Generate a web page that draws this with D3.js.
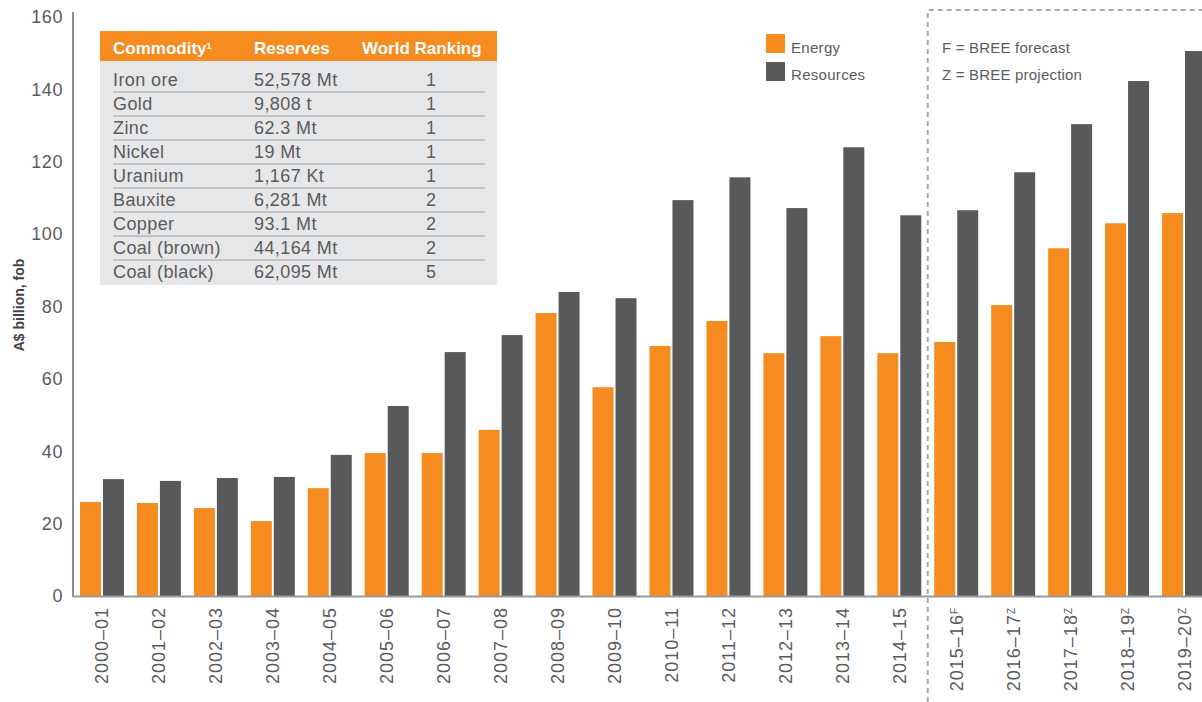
<!DOCTYPE html>
<html>
<head>
<meta charset="utf-8">
<script src="https://cdn.jsdelivr.net/npm/d3@7"></script>
<style>
  body { margin: 0; background: #fff; }
  svg { display: block; font-family: "Liberation Sans", Arial, sans-serif; }
</style>
</head>
<body>
<svg id="chart" width="1202" height="702"></svg>
<script>
// chart data
const years = ["2000–01","2001–02","2002–03","2003–04","2004–05","2005–06","2006–07","2007–08","2008–09","2009–10",
  "2010–11","2011–12","2012–13","2013–14","2014–15","2015–16","2016–17","2017–18","2018–19","2019–20"];
const yearNotes = ["","","","","","","","","","","","","","","","F","Z","Z","Z","Z"];
const energy = [26.0, 25.7, 24.3, 20.7, 29.8, 39.5, 39.5, 45.9, 78.2, 57.7,
  69.1, 76.0, 67.1, 71.8, 67.1, 70.2, 80.4, 96.1, 103.0, 105.8];
const resources = [32.3, 31.8, 32.6, 32.9, 39.0, 52.5, 67.4, 72.1, 84.0, 82.3,
  109.4, 115.7, 107.2, 124.0, 105.2, 106.6, 117.1, 130.4, 142.3, 150.6];
const seriesNames = ["Energy", "Resources"];
const yTicks = [0, 20, 40, 60, 80, 100, 120, 140, 160];

// inset table
const tableHead = ["Commodity", "Reserves", "World Ranking"];
const commodities = ["Iron ore","Gold","Zinc","Nickel","Uranium","Bauxite","Copper","Coal (brown)","Coal (black)"];
const reserves = ["52,578 Mt","9,808 t","62.3 Mt","19 Mt","1,167 Kt","6,281 Mt","93.1 Mt","44,164 Mt","62,095 Mt"];
const rankings = [1, 1, 1, 1, 1, 2, 2, 2, 5];

const orange = "#f68b1f", dark = "#58595b", textCol = "#5a5b5d", axisCol = "#8c8c8c";
const colors = d3.scaleOrdinal().domain(seriesNames).range([orange, dark]);

const svg = d3.select("#chart");
const x0 = d3.scaleBand().domain(years).range([73, 1213]).paddingInner(13/57).paddingOuter(0.1228);
const x1 = d3.scaleBand().domain(seriesNames).range([0, x0.bandwidth()]).paddingInner(0.087);
const y = d3.scaleLinear().domain([0, 160]).range([596, 17]);

// dashed forecast box
const boxX = x0(years[15]) - x0.step() * x0.paddingInner() / 2;
svg.append("path")
  .attr("d", `M${boxX} 702 L${boxX} 10 L1202 10`)
  .attr("fill", "none")
  .attr("stroke", "#a7a9ac")
  .attr("stroke-width", 2)
  .attr("stroke-dasharray", "5,4");

// bars
const groups = svg.append("g").selectAll("g")
  .data(years.map((yr, i) => ({ yr, vals: [energy[i], resources[i]] })))
  .join("g")
  .attr("transform", d => `translate(${x0(d.yr)},0)`);
groups.selectAll("rect")
  .data(d => d.vals.map((v, k) => ({ key: seriesNames[k], v })))
  .join("rect")
  .attr("x", d => x1(d.key))
  .attr("width", x1.bandwidth())
  .attr("y", d => y(d.v))
  .attr("height", d => y(0) - y(d.v))
  .attr("fill", d => colors(d.key));

// y axis
const yAxis = svg.append("g")
  .attr("transform", "translate(73,0)")
  .call(d3.axisLeft(y).tickValues(yTicks).tickSize(0).tickPadding(10));
yAxis.select(".domain").remove();
yAxis.selectAll("text")
  .attr("fill", textCol)
  .style("font-size", "18px")
  .style("letter-spacing", "0.6px");
svg.append("line")
  .attr("x1", 73).attr("x2", 73)
  .attr("y1", 12).attr("y2", y(0) + 1)
  .attr("stroke", axisCol).attr("stroke-width", 2);

// x axis
const xAxis = svg.append("g")
  .attr("transform", `translate(0,${y(0)})`)
  .call(d3.axisBottom(x0).tickSize(0).tickSizeOuter(0));
xAxis.select(".domain").attr("stroke", "#9a9a9a").attr("stroke-width", 2);
xAxis.selectAll("text")
  .attr("transform", "rotate(-90)")
  .attr("x", -11)
  .attr("y", 0)
  .attr("dy", "0.36em")
  .style("text-anchor", "end")
  .style("font-size", "18px")
  .style("letter-spacing", "1px")
  .attr("fill", textCol)
  .each(function(d, i) {
    if (yearNotes[i]) {
      d3.select(this).append("tspan")
        .attr("baseline-shift", "super")
        .style("font-size", "10px")
        .text(yearNotes[i]);
    }
  });

// y axis title
svg.append("text")
  .attr("transform", "translate(24,305) rotate(-90)")
  .attr("text-anchor", "middle")
  .attr("fill", "#444")
  .style("font-size", "14px")
  .style("font-weight", "bold")
  .text("A$ billion, fob");

// legend
const legend = svg.append("g");
seriesNames.forEach((s, i) => {
  legend.append("rect")
    .attr("x", 766).attr("y", 34 + i * 28)
    .attr("width", 19).attr("height", 19)
    .attr("fill", colors(s));
  legend.append("text")
    .attr("x", 791).attr("y", 53 + i * 27)
    .attr("fill", textCol)
    .style("font-size", "15px")
    .style("letter-spacing", "0.3px")
    .text(s);
});

// forecast notes
["F = BREE forecast", "Z = BREE projection"].forEach((t, i) => {
  svg.append("text")
    .attr("x", 942).attr("y", 53 + i * 27)
    .attr("fill", textCol)
    .style("font-size", "15px")
    .style("letter-spacing", "0.2px")
    .text(t);
});

// inset table
const table = svg.append("g");
const colX = [113, 254, 431];
table.append("rect").attr("x", 100).attr("y", 31).attr("width", 397).attr("height", 30).attr("fill", orange);
table.append("rect").attr("x", 100).attr("y", 61).attr("width", 397).attr("height", 224).attr("fill", "#e6e7e8");
tableHead.forEach((h, i) => {
  const t = table.append("text")
    .attr("x", i === 2 ? 362 : colX[i]).attr("y", 54)
    .attr("fill", "#fff")
    .style("font-size", "17px")
    .style("font-weight", "bold")
    .text(h);
  if (i === 0) {
    t.append("tspan").attr("baseline-shift", "super").style("font-size", "9px").text("1");
  }
});
const rowY = d3.scaleLinear().domain([0, 1]).range([86, 110]);
commodities.forEach((c, i) => {
  const by = rowY(i);
  table.append("text").attr("x", colX[0]).attr("y", by).attr("fill", textCol).style("font-size", "18px").style("letter-spacing", "0.4px").text(c);
  table.append("text").attr("x", colX[1]).attr("y", by).attr("fill", textCol).style("font-size", "18px").style("letter-spacing", "0.4px").text(reserves[i]);
  table.append("text").attr("x", colX[2]).attr("y", by).attr("text-anchor", "middle").attr("fill", textCol).style("font-size", "18px").text(rankings[i]);
  if (i < commodities.length - 1) {
    table.append("line")
      .attr("x1", 113).attr("x2", 485)
      .attr("y1", by + 6).attr("y2", by + 6)
      .attr("stroke", "#9d9fa2").attr("stroke-width", 1);
  }
});
</script>
</body>
</html>
